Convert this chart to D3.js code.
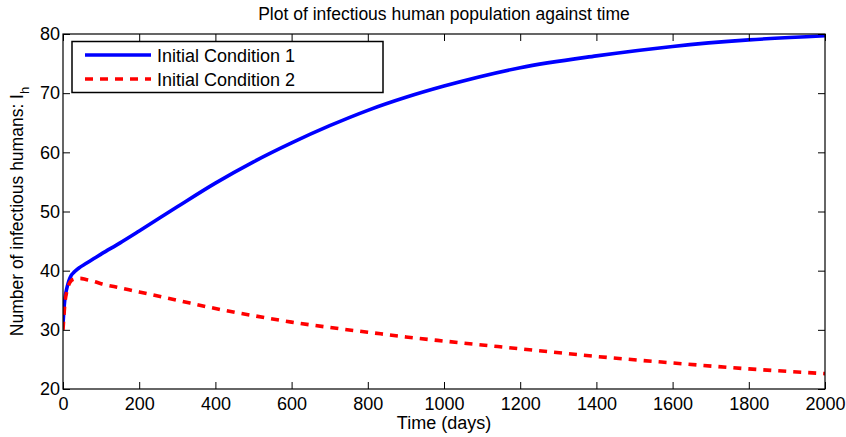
<!DOCTYPE html>
<meta charset="UTF-8">
<style>
body { margin: 0; background: #fff; }
svg text { font-family: "Liberation Sans", Arial, sans-serif; fill: #000; }
.tick text { font-size: 18px; }
.line { fill: none; stroke-width: 3.6px; }
</style>
<body>
<script src="https://d3js.org/d3.v7.min.js"></script>
<script>

// time points (days)
var days = [0, 2, 5, 10, 15, 20, 30, 45, 60, 80, 100, 150, 200, 300, 400, 500, 600, 700, 800, 900, 1000, 1200, 1400, 1600, 1800, 2000];
// Initial Condition 1
var ic1 = [31, 33, 35.3, 37, 38.2, 39, 39.8, 40.6, 41.2, 42.0, 42.8, 44.7, 46.7, 50.8, 54.8, 58.4, 61.6, 64.5, 67.1, 69.3, 71.2, 74.3, 76.3, 77.9, 79.0, 79.7];
// Initial Condition 2
var ic2 = [30, 32, 34.5, 36.5, 37.6, 38.2, 38.6, 38.7, 38.5, 38.2, 37.8, 37.1, 36.4, 35, 33.6, 32.4, 31.3, 30.4, 29.6, 28.8, 28.1, 26.8, 25.5, 24.4, 23.4, 22.6];

var xTicks = [0, 200, 400, 600, 800, 1000, 1200, 1400, 1600, 1800, 2000];
var yTicks = [20, 30, 40, 50, 60, 70, 80];

var seriesNames = ["Initial Condition 1", "Initial Condition 2"];
var seriesColors = ["#0000ff", "#ff0000"];

var W = 846, H = 437;
var margin = {top: 34, right: 21, bottom: 48, left: 63};
var width = W - margin.left - margin.right,
    height = H - margin.top - margin.bottom;

var svg = d3.select("body").append("svg")
    .attr("width", W)
    .attr("height", H);

var g = svg.append("g")
    .attr("transform", "translate(" + margin.left + "," + margin.top + ")");

var x = d3.scaleLinear().domain([0, 2000]).range([0, width]);
var y = d3.scaleLinear().domain([20, 80]).range([height, 0]);

// lines first, box and ticks on top
var line = d3.line()
    .x(function(d) { return x(d[0]); })
    .y(function(d) { return y(d[1]); })
    .curve(d3.curveMonotoneX);

g.append("clipPath").attr("id", "clip")
  .append("rect").attr("width", width).attr("height", height);

var plot = g.append("g").attr("clip-path", "url(#clip)");

plot.append("path")
    .datum(d3.zip(days, ic1))
    .attr("class", "line")
    .attr("stroke", seriesColors[0])
    .attr("d", line);

plot.append("path")
    .datum(d3.zip(days, ic2))
    .attr("class", "line")
    .attr("stroke", seriesColors[1])
    .attr("stroke-dasharray", "8,7")
    .attr("d", line);

// axes with inward ticks
var tickLen = 7;
var fmt = d3.format("d");
g.append("g")
    .attr("transform", "translate(0," + height + ")")
    .call(d3.axisBottom(x).tickValues(xTicks).tickFormat(fmt).tickSize(-tickLen).tickPadding(8).tickSizeOuter(0))
    .call(function(s) { s.select(".domain").remove(); });

g.append("g")
    .call(d3.axisTop(x).tickValues(xTicks).tickSize(-tickLen).tickFormat("").tickSizeOuter(0))
    .call(function(s) { s.select(".domain").remove(); });

g.append("g")
    .call(d3.axisLeft(y).tickValues(yTicks).tickFormat(fmt).tickSize(-tickLen).tickPadding(3).tickSizeOuter(0))
    .call(function(s) { s.select(".domain").remove(); });

g.append("g")
    .attr("transform", "translate(" + width + ",0)")
    .call(d3.axisRight(y).tickValues(yTicks).tickSize(-tickLen).tickFormat("").tickSizeOuter(0))
    .call(function(s) { s.select(".domain").remove(); });

g.selectAll(".tick line").attr("stroke", "#000");

g.append("rect")
    .attr("width", width)
    .attr("height", height)
    .attr("fill", "none")
    .attr("stroke", "#000")
    .attr("stroke-width", 1.2);

// title and labels
svg.append("text")
    .attr("x", margin.left + width / 2)
    .attr("y", 20)
    .attr("text-anchor", "middle")
    .style("font-size", "17.5px")
    .text("Plot of infectious human population against time");

svg.append("text")
    .attr("x", margin.left + width / 2)
    .attr("y", 429)
    .attr("text-anchor", "middle")
    .style("font-size", "18px")
    .text("Time (days)");

var yl = svg.append("text")
    .attr("transform", "translate(23," + (margin.top + height / 2) + ") rotate(-90)")
    .attr("text-anchor", "middle")
    .style("font-size", "17.5px");
yl.append("tspan").text("Number of infectious humans: I");
yl.append("tspan").attr("dy", 6).style("font-size", "13px").text("h");

// legend
var lg = svg.append("g").attr("transform", "translate(72,41.5)");
lg.append("rect")
    .attr("width", 311)
    .attr("height", 51)
    .attr("fill", "#fff")
    .attr("stroke", "#000")
    .attr("stroke-width", 1.5);

seriesNames.forEach(function(name, i) {
  var ly = 13.5 + i * 24;
  lg.append("line")
      .attr("x1", 13).attr("x2", 79)
      .attr("y1", ly).attr("y2", ly)
      .attr("stroke", seriesColors[i])
      .attr("stroke-width", 3.6)
      .attr("stroke-dasharray", i === 1 ? "8,7" : null);
  lg.append("text")
      .attr("x", 85)
      .attr("y", ly + 7)
      .style("font-size", "18px")
      .text(name);
});

</script>
</body>
